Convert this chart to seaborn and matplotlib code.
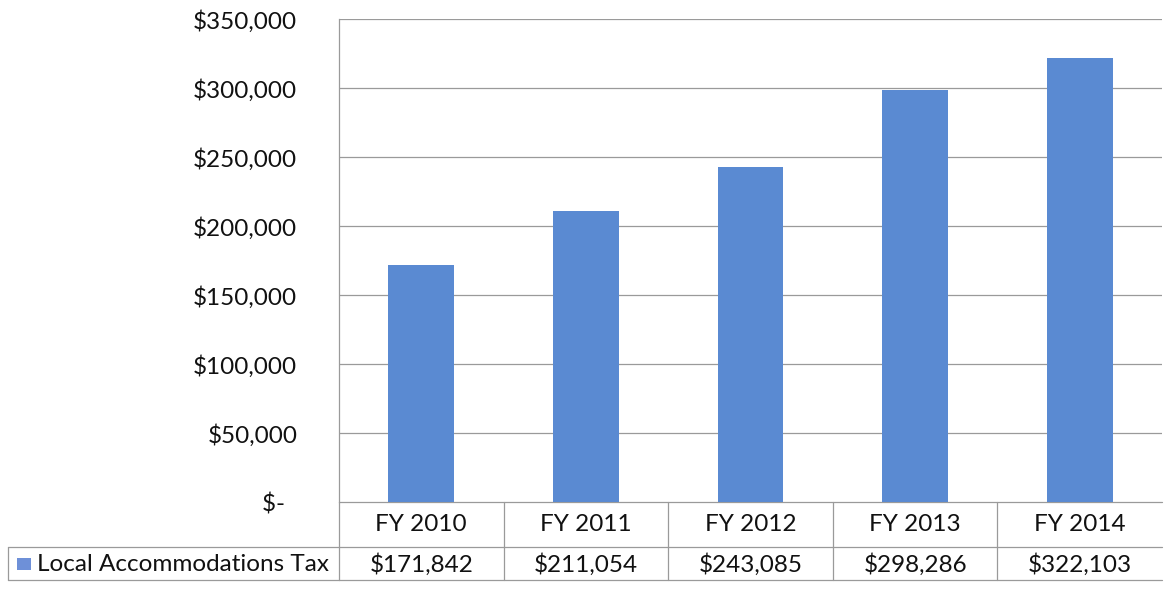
import matplotlib
matplotlib.use("Agg")
import matplotlib.pyplot as plt
import matplotlib.transforms as mtransforms
from matplotlib.lines import Line2D
from matplotlib.patches import Rectangle
import seaborn as sns
import pandas as pd

# Data
years = ["FY 2010", "FY 2011", "FY 2012", "FY 2013", "FY 2014"]
tax_values = [171842, 211054, 243085, 298286, 322103]
series_name = "Local Accommodations Tax"
y_ticks = [0, 50000, 100000, 150000, 200000, 250000, 300000, 350000]

bar_color = "#5A8AD2"
grid_color = "#9A9A9A"
font_size = 17.5

sns.set_theme(style="white")
plt.rcParams["font.family"] = ["Lato", "DejaVu Sans"]

df = pd.DataFrame({"year": years, "value": tax_values})

fig = plt.figure(figsize=(11.69, 5.95), dpi=100)
ax = fig.add_axes([0.29, 0.156, 0.704, 0.812])

sns.barplot(data=df, x="year", y="value", color=bar_color, width=0.4,
            saturation=1, linewidth=0, edgecolor="none", ax=ax, zorder=3)

ax.set_xlim(-0.5, len(years) - 0.5)
ax.set_ylim(0, 350000)
ax.set_yticks(y_ticks)


def money(v):
    return "$-  " if v == 0 else f"${v:,.0f}"


ax.set_yticklabels([money(v) for v in y_ticks], fontsize=font_size, color="#111111")
ax.tick_params(axis="y", length=0, pad=30)
ax.set_xticks([])
ax.set_xlabel("")
ax.set_ylabel("")

# Horizontal gridlines
for v in y_ticks[1:]:
    ax.axhline(v, color=grid_color, lw=0.9, zorder=1)

for side in ["top", "right", "bottom"]:
    ax.spines[side].set_visible(False)
ax.spines["left"].set_color(grid_color)
ax.spines["left"].set_linewidth(0.9)

# Data table beneath the chart
trans = mtransforms.blended_transform_factory(ax.transData, ax.transAxes)
row1_y = -0.0455
line1_y = -0.0932
row2_y = -0.128
line2_y = -0.161
left_x = -0.402
n = len(years)

line_kw = dict(color=grid_color, lw=0.9, clip_on=False)
# baseline / header top
ax.add_line(Line2D([-0.5, n - 0.5], [0, 0], transform=trans, **line_kw))
# row separators
for yy in (line1_y, line2_y):
    ax.add_line(Line2D([0, 1.0], [yy, yy], transform=ax.transAxes, **line_kw))
    ax.add_line(Line2D([left_x, 0], [yy, yy], transform=ax.transAxes, **line_kw))
# left border of the legend cell
ax.add_line(Line2D([left_x, left_x], [line1_y, line2_y], transform=ax.transAxes, **line_kw))
# column separators
for i in range(n):
    xx = i - 0.5
    ax.add_line(Line2D([xx, xx], [0, line2_y], transform=trans, **line_kw))

for i, (yr, val) in enumerate(zip(years, tax_values)):
    ax.text(i, row1_y, yr, transform=trans, ha="center", va="center",
            fontsize=font_size, color="#111111")
    ax.text(i, row2_y, f"${val:,.0f}", transform=trans, ha="center", va="center",
            fontsize=font_size, color="#111111")

# Legend key + series name in the row header
ax.add_patch(Rectangle((left_x + 0.011, row2_y - 0.012), 0.017, 0.025,
                       transform=ax.transAxes, facecolor="#6E90D8",
                       edgecolor="none", clip_on=False))
ax.text(left_x + 0.035, row2_y, series_name, transform=ax.transAxes,
        ha="left", va="center", fontsize=font_size, color="#111111")

fig.savefig("out.png", dpi=100, facecolor="white")
